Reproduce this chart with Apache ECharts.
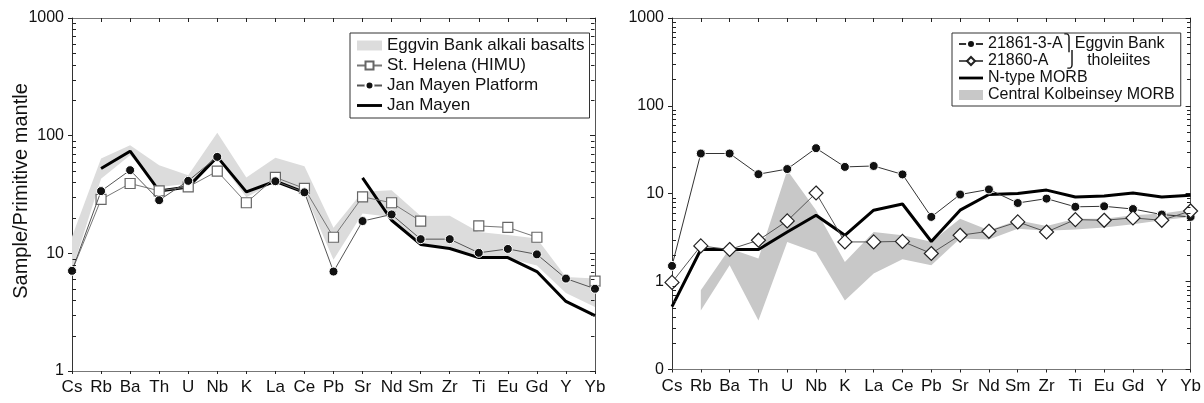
<!DOCTYPE html>
<html><head><meta charset="utf-8">
<script src="https://cdn.jsdelivr.net/npm/echarts@6/dist/echarts.min.js"></script>
<style>html,body{margin:0;padding:0;background:#fff}#c{width:1204px;height:403px}</style>
</head><body><div id="c"></div>
<script>
// ---------- data ----------
const CATEGORIES = ['Cs','Rb','Ba','Th','U','Nb','K','La','Ce','Pb','Sr','Nd','Sm','Zr','Ti','Eu','Gd','Y','Yb'];

// Left panel
const EGGVIN_ALKALI_UPPER = [13.8, 64, 83, 56, 46, 106, 44, 65, 55, 16.5, 33.3, 34.4, 20.8, 20.9, 15.2, 14.3, 13.4, 6.3, 6.1];
const EGGVIN_ALKALI_LOWER = [7.1, 43, 68, 36.7, 39, 64, 30, 40.5, 33, 8.8, 21.8, 20.4, 11.7, 11.4, 9.1, 9.1, 7.9, 4.6, 3.5];
const ST_HELENA = [7.1, 28.7, 39.2, 34, 36.7, 49.9, 26.9, 44.2, 35.6, 13.7, 30.2, 26.9, 18.8, null, 17.1, 16.6, 13.7, null, 5.8];
const JAN_MAYEN_PLATFORM = [7.1, 33.8, 50.9, 28.3, 41.3, 66, null, 41, 33, 7.0, 18.8, 21.4, 13.2, 13.2, 10.1, 10.9, 9.8, 6.1, 5.0];
const JAN_MAYEN = [null, 52.6, 73.8, 33.9, 36.7, 66, 33.3, 41, 33, null, 43.8, 19.1, 11.9, 11.0, 9.2, 9.2, 7.0, 3.9, 2.95];

// Right panel
const S21861_3A = [1.51, 28.7, 28.7, 16.7, 19.1, 33, 20.2, 20.7, 16.6, 5.45, 9.8, 11.2, 7.85, 8.8, 7.1, 7.2, 6.7, 5.8, 5.45];
const S21860A = [0.98, 2.55, 2.32, 2.96, 4.91, 10.2, 2.83, 2.83, 2.87, 2.09, 3.37, 3.74, 4.78, 3.67, 5.08, 4.99, 5.31, 4.99, 6.37];
const N_MORB = [0.52, 2.32, 2.32, 2.32, 3.67, 5.7, 3.37, 6.5, 7.65, 2.86, 6.5, 9.8, 10.05, 11.0, 9.2, 9.45, 10.2, 9.2, 9.6];
const KOLBEINSEY_UPPER = [null, 0.80, 2.38, 1.83, 18.5, 6.5, 1.67, 3.67, 3.37, 2.85, 5.2, 3.85, 5.0, 4.3, 5.2, 5.2, 5.7, 5.95, 6.6];
const KOLBEINSEY_LOWER = [null, 0.47, 1.54, 0.36, 2.83, 2.15, 0.61, 1.24, 1.8, 1.54, 3.09, 3.01, 4.0, 3.8, 3.92, 4.12, 4.5, 4.99, 5.45];

// minor tick positions (log axes)
const LEFT_MINOR_TICKS = [2,3,4,5,6,7,8,9,20,30,40,50,60,70,80,90,200,300,400,500,600,700,800,900];
const RIGHT_MINOR_TICKS = [0.2,0.3,0.4,0.5,0.6,0.7,0.8,0.9,2,3,4,5,6,7,8,9,20,30,40,50,60,70,80,90,200,300,400,500,600,700,800,900];

const NAME_EGGVIN = 'Eggvin Bank alkali basalts';
const NAME_STH = 'St. Helena (HIMU)';
const NAME_JMP = 'Jan Mayen Platform';
const NAME_JM = 'Jan Mayen';
const NAME_A = '21861-3-A\u23ABEggvin Bank';
const NAME_B = '21860-A    \u23AD  tholeiites';
const NAME_N = 'N-type MORB';
const NAME_K = 'Central Kolbeinsey MORB';

// ---------- helpers ----------
const AXIS_FONT = 'Liberation Sans, Arial, sans-serif';
const LINE_ICON = 'path://M0 0H26V3H0Z';

function bandRenderer(upper, lower, color) {
  return function (params, api) {
    if (params.dataIndex !== 0) return null;
    const pts = [];
    upper.forEach((v, i) => { if (v != null) pts.push(api.coord([i, v])); });
    for (let i = lower.length - 1; i >= 0; i--) if (lower[i] != null) pts.push(api.coord([i, lower[i]]));
    return { type: 'polygon', shape: { points: pts }, style: { fill: color } };
  };
}
function minorTickRenderer(params, api) {
  const p = api.coord([0, api.value(1)]);
  const cs = params.coordSys;
  const y = Math.round(p[1]) + 0.5;
  const xl = Math.round(cs.x) + 0.5, xr = Math.round(cs.x + cs.width) - 0.5;
  return { type: 'group', children: [
    { type: 'line', shape: { x1: xl, y1: y, x2: xl + 3.5, y2: y }, style: { stroke: '#222', lineWidth: 1 } },
    { type: 'line', shape: { x1: xr, y1: y, x2: xr - 3.5, y2: y }, style: { stroke: '#222', lineWidth: 1 } }
  ]};
}

function xAxes(gridIndex) {
  return [
    { type: 'category', gridIndex, data: CATEGORIES, boundaryGap: false, position: 'bottom',
      axisLine: { lineStyle: { color: '#777', width: 1 } },
      axisTick: { inside: false, length: 3, lineStyle: { color: '#222' } },
      axisLabel: { interval: 0, margin: 8, color: '#111', fontFamily: AXIS_FONT, fontSize: 17 },
      splitLine: { show: false } },
    { type: 'category', gridIndex, data: CATEGORIES, boundaryGap: false, position: 'top',
      axisLine: { lineStyle: { color: '#777', width: 1 } },
      axisTick: { inside: true, length: 4, lineStyle: { color: '#222' } },
      axisLabel: { show: false }, splitLine: { show: false } }
  ];
}
function yAxes(gridIndex, min) {
  const fmt = v => (v < 1 ? '0' : String(Math.round(v)));
  return [
    { type: 'log', logBase: 10, gridIndex, min, max: 1000, interval: 1, position: 'left',
      axisLine: { show: true, lineStyle: { color: '#333', width: 1 } },
      axisTick: { show: true, inside: false, length: 4, lineStyle: { color: '#222' } },
      axisLabel: { margin: 8, color: '#111', fontFamily: AXIS_FONT, fontSize: 16, formatter: fmt },
      splitLine: { show: false }, minorTick: { show: false } },
    { type: 'log', logBase: 10, gridIndex, min, max: 1000, interval: 1, position: 'right',
      axisLine: { show: true, lineStyle: { color: '#555', width: 1 } },
      axisTick: { show: true, inside: true, length: 5, lineStyle: { color: '#222' } },
      axisLabel: { show: false }, splitLine: { show: false } }
  ];
}
function lineSeries(name, data, xi, yi, opts) {
  return Object.assign({ type: 'line', name, data, xAxisIndex: xi, yAxisIndex: yi,
    connectNulls: false, smooth: false, animation: false }, opts);
}

// ---------- chart ----------
const chart = echarts.init(document.getElementById('c'), null, { renderer: 'canvas' });
const option = {
  animation: false,
  backgroundColor: '#fff',
  grid: [
    { left: 72, top: 18, width: 523, height: 353 },
    { left: 672, top: 18, width: 520, height: 351.5 }
  ],
  xAxis: [...xAxes(0), ...xAxes(1)],
  yAxis: [...yAxes(0, 1), ...yAxes(1, 0.1)],
  legend: [
    { orient: 'vertical', left: 350, top: 33, selectedMode: false,
      padding: [4, 5, 4, 6], itemGap: 3, itemWidth: 25, itemHeight: 10,
      borderColor: '#333', borderWidth: 1, backgroundColor: '#fff',
      textStyle: { fontFamily: AXIS_FONT, fontSize: 17, lineHeight: 17, color: '#111' },
      data: [ { name: NAME_EGGVIN, icon: 'rect', itemStyle: { color: '#dcdcdc' } }, NAME_STH, NAME_JMP,
              { name: NAME_JM, icon: LINE_ICON, itemStyle: { color: '#000' } } ] },
    { orient: 'vertical', left: 952, top: 33, selectedMode: false,
      padding: [3, 6, 3, 6], itemGap: 1, itemWidth: 24, itemHeight: 10,
      borderColor: '#333', borderWidth: 1, backgroundColor: '#fff',
      textStyle: { fontFamily: AXIS_FONT, fontSize: 16, lineHeight: 16, color: '#111' },
      data: [ NAME_A, NAME_B, { name: NAME_N, icon: LINE_ICON, itemStyle: { color: '#000' } },
              { name: NAME_K, icon: 'rect', itemStyle: { color: '#c8c8c8' } } ] }
  ],
  graphic: [
    { type: 'text', x: 21, y: 191, rotation: Math.PI / 2,
      style: { text: 'Sample/Primitive mantle', font: '20px "Liberation Sans", Arial, sans-serif', fill: '#111',
               textAlign: 'center', textVerticalAlign: 'middle' } }
  ],
  series: [
    // Left panel
    { type: 'custom', name: NAME_EGGVIN, xAxisIndex: 0, yAxisIndex: 0, z: 1, silent: true,
      itemStyle: { color: '#dcdcdc' },
      renderItem: bandRenderer(EGGVIN_ALKALI_UPPER, EGGVIN_ALKALI_LOWER, '#dcdcdc'), data: [[0, 1]] },
    lineSeries(NAME_JM, JAN_MAYEN, 0, 0, { z: 2, symbol: 'none', lineStyle: { color: '#000', width: 3 }, itemStyle: { color: '#000' } }),
    lineSeries(NAME_STH, ST_HELENA.map((v, i) => i === 0 ? { value: v, symbolSize: 0 } : v), 0, 0, { z: 3,
      symbol: 'rect', symbolSize: 10, showAllSymbol: true,
      lineStyle: { color: '#777', width: 1 }, itemStyle: { color: '#fff', borderColor: '#666', borderWidth: 1.2 } }),
    lineSeries(NAME_JMP, JAN_MAYEN_PLATFORM, 0, 0, { z: 4,
      symbol: 'circle', symbolSize: 9, showAllSymbol: true,
      lineStyle: { color: '#555', width: 1 }, itemStyle: { color: '#111', borderColor: '#fff', borderWidth: 1 } }),
    { type: 'custom', xAxisIndex: 0, yAxisIndex: 0, z: 5, silent: true,
      renderItem: minorTickRenderer, data: LEFT_MINOR_TICKS.map(v => [0, v]) },

    // Right panel
    { type: 'custom', name: NAME_K, xAxisIndex: 2, yAxisIndex: 2, z: 1, silent: true,
      itemStyle: { color: '#c8c8c8' },
      renderItem: bandRenderer(KOLBEINSEY_UPPER, KOLBEINSEY_LOWER, '#c8c8c8'), data: [[0, 1]] },
    lineSeries(NAME_N, N_MORB, 2, 2, { z: 2, symbol: 'none', lineStyle: { color: '#000', width: 3 }, itemStyle: { color: '#000' } }),
    lineSeries(NAME_A, S21861_3A, 2, 2, { z: 3,
      symbol: 'circle', symbolSize: 9, showAllSymbol: true,
      lineStyle: { color: '#333', width: 1 }, itemStyle: { color: '#111', borderColor: '#fff', borderWidth: 1 } }),
    lineSeries(NAME_B, S21860A, 2, 2, { z: 4,
      symbol: 'diamond', symbolSize: 14, showAllSymbol: true,
      lineStyle: { color: '#555', width: 1 }, itemStyle: { color: '#fff', borderColor: '#222', borderWidth: 1.2 } }),
    { type: 'custom', xAxisIndex: 2, yAxisIndex: 2, z: 5, silent: true,
      renderItem: minorTickRenderer, data: RIGHT_MINOR_TICKS.map(v => [0, v]) }
  ]
};
chart.setOption(option);
</script>
</body></html>
